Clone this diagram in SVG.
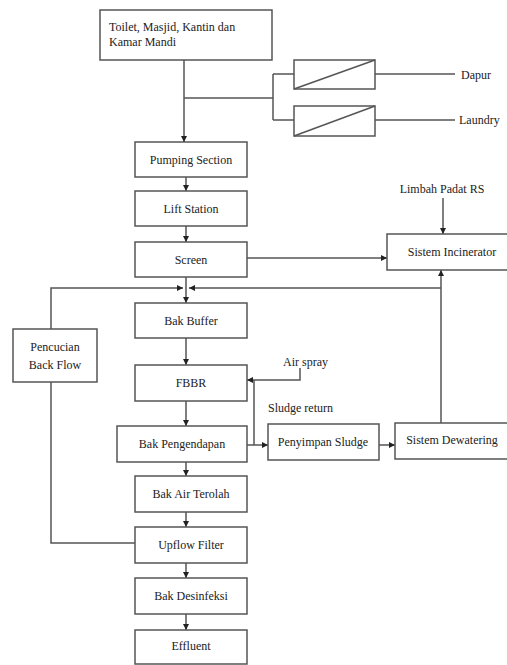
<svg xmlns="http://www.w3.org/2000/svg" width="507" height="665" viewBox="0 0 507 665">
<defs>
<marker id="ah" viewBox="0 0 10 10" refX="10" refY="5" markerWidth="6" markerHeight="6" markerUnits="userSpaceOnUse" orient="auto">
<path d="M0,0 L10,5 L0,10 z" fill="#222"/>
</marker>
</defs>
<style>
.box{fill:#fff;stroke:#555;stroke-width:1.5}
.ln{fill:none;stroke:#555;stroke-width:1.5}
.arr{fill:none;stroke:#555;stroke-width:1.5;marker-end:url(#ah)}
text{font-family:'Liberation Serif','DejaVu Serif',serif;font-size:12px;fill:#222}
.c{text-anchor:middle}
</style>
<rect width="507" height="665" fill="#fff"/>
<g id="connectors">
<path class="arr" d="M184,60 V142"/>
<path class="ln" d="M184,98 H273 M273,74 V120 M273,74 H294 M273,120 H294"/>
<path class="ln" d="M375,74 H455 M375,120 H455"/>
<path class="arr" d="M186,177 V191"/>
<path class="arr" d="M186,226 V242"/>
<path class="arr" d="M247,258 H387"/>
<path class="arr" d="M443,198 V234"/>
<path class="arr" d="M186,277 V303"/>
<path class="arr" d="M51,329 V288 H183"/>
<path class="arr" d="M441,423 V270"/>
<path class="arr" d="M441,288 H189"/>
<path class="arr" d="M186,338 V365"/>
<path class="arr" d="M300,368 V380 H247"/>
<path class="ln" d="M254,380 V445"/>
<path class="arr" d="M186,401 V426"/>
<path class="arr" d="M247,445 H268"/>
<path class="arr" d="M379,445 H395"/>
<path class="arr" d="M186,462 V476"/>
<path class="ln" d="M51,382 V543 H135"/>
<path class="arr" d="M186,512 V527"/>
<path class="arr" d="M186,563 V578"/>
<path class="arr" d="M186,614 V630"/>
</g>
<g id="n-sumber">
<rect class="box" x="100" y="10" width="172" height="50"/>
<text x="109" y="31">Toilet, Masjid, Kantin dan</text>
<text x="109" y="46">Kamar Mandi</text>
</g>
<g id="n-grease1">
<rect class="box" x="294" y="60" width="81" height="29"/>
<path class="ln" d="M294,89 L375,60"/>
</g>
<g id="n-grease2">
<rect class="box" x="294" y="106" width="81" height="30"/>
<path class="ln" d="M294,136 L375,106"/>
</g>
<g id="n-dapur"><text x="461" y="79">Dapur</text></g>
<g id="n-laundry"><text x="459" y="124">Laundry</text></g>
<g id="n-pumping">
<rect class="box" x="135" y="142" width="112" height="35"/>
<text class="c" x="191" y="164">Pumping Section</text>
</g>
<g id="n-lift">
<rect class="box" x="135" y="191" width="112" height="35"/>
<text class="c" x="191" y="213">Lift Station</text>
</g>
<g id="n-screen">
<rect class="box" x="135" y="242" width="112" height="35"/>
<text class="c" x="191" y="264">Screen</text>
</g>
<g id="n-limbah"><text class="c" x="442" y="193">Limbah Padat RS</text></g>
<g id="n-incinerator">
<rect class="box" x="387" y="234" width="125" height="36"/>
<text class="c" x="452" y="256">Sistem Incinerator</text>
</g>
<g id="n-buffer">
<rect class="box" x="135" y="303" width="112" height="35"/>
<text class="c" x="191" y="325">Bak Buffer</text>
</g>
<g id="n-pencucian">
<rect class="box" x="13" y="329" width="84" height="53"/>
<text class="c" x="55" y="351">Pencucian</text>
<text class="c" x="55" y="369">Back Flow</text>
</g>
<g id="n-airspray"><text x="283" y="366">Air spray</text></g>
<g id="n-fbbr">
<rect class="box" x="135" y="365" width="112" height="36"/>
<text class="c" x="191" y="387">FBBR</text>
</g>
<g id="n-sludgereturn"><text x="268" y="412">Sludge return</text></g>
<g id="n-pengendapan">
<rect class="box" x="117" y="426" width="130" height="36"/>
<text class="c" x="182" y="448">Bak Pengendapan</text>
</g>
<g id="n-penyimpan">
<rect class="box" x="268" y="424" width="111" height="36"/>
<text class="c" x="323" y="446">Penyimpan Sludge</text>
</g>
<g id="n-dewatering">
<rect class="box" x="395" y="423" width="117" height="36"/>
<text class="c" x="452" y="444">Sistem Dewatering</text>
</g>
<g id="n-terolah">
<rect class="box" x="135" y="476" width="112" height="36"/>
<text class="c" x="191" y="498">Bak Air Terolah</text>
</g>
<g id="n-upflow">
<rect class="box" x="135" y="527" width="112" height="36"/>
<text class="c" x="191" y="549">Upflow Filter</text>
</g>
<g id="n-desinfeksi">
<rect class="box" x="135" y="578" width="112" height="36"/>
<text class="c" x="191" y="600">Bak Desinfeksi</text>
</g>
<g id="n-effluent">
<rect class="box" x="135" y="630" width="112" height="34"/>
<text class="c" x="191" y="650">Effluent</text>
</g>
</svg>
